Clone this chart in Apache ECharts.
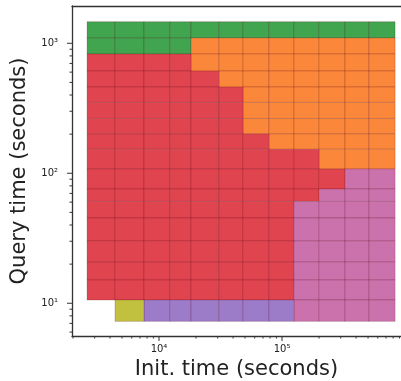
<!DOCTYPE html>
<html>
<head>
<meta charset="utf-8">
<script src="https://cdn.jsdelivr.net/npm/echarts@6/dist/echarts.min.js"></script>
<style>
  html, body { margin: 0; padding: 0; background: #fff; }
  #chart { width: 401px; height: 381px; }
</style>
</head>
<body>
<div id="chart"></div>
<script>
// cell edges (seconds)
var initEdges = [2600, 4390, 7550, 12300, 18200, 30700, 48200, 78300, 125000, 200000, 325000, 509000, 830000];
// query time edges, top to bottom
var queryEdges = [1466, 1099, 827, 612, 461, 351, 264, 201, 153, 108, 75.7, 60.7, 45.3, 30.1, 20.8, 15.1, 10.6, 7.26];

// best method per cell, one string per row (top to bottom), '-' = none
var bestRows = [
  "GGGGGGGGGGGG",
  "GGGGOOOOOOOO",
  "RRRROOOOOOOO",
  "RRRRROOOOOOO",
  "RRRRRROOOOOO",
  "RRRRRROOOOOO",
  "RRRRRROOOOOO",
  "RRRRRRROOOOO",
  "RRRRRRRRROOO",
  "RRRRRRRRRRPP",
  "RRRRRRRRRPPP",
  "RRRRRRRRPPPP",
  "RRRRRRRRPPPP",
  "RRRRRRRRPPPP",
  "RRRRRRRRPPPP",
  "RRRRRRRRPPPP",
  "-YVVVVVVPPPP"
];

var methodKeys = ["G", "O", "R", "P", "V", "Y"];
var methodNames = ["green", "orange", "red", "pink", "purple", "olive"];
var methodColors = ["#41a54f", "#fb873b", "#e0444f", "#cb72ad", "#9c7cc8", "#c1c03f"];

var xMajorTicks = [1e4, 1e5];
var xMinorTicks = [2000, 3000, 4000, 5000, 6000, 7000, 8000, 9000,
  20000, 30000, 40000, 50000, 60000, 70000, 80000, 90000,
  200000, 300000, 400000, 500000, 600000, 700000, 800000, 900000];
var yMajorTicks = [10, 100, 1000];
var yMinorTicks = [6, 7, 8, 9, 20, 30, 40, 50, 60, 70, 80, 90,
  200, 300, 400, 500, 600, 700, 800, 900];

var xRange = [1962, 927000];
var yRange = [5.6, 1936];

var FONT = "DejaVu Sans";
var AXIS_COLOR = "#333";

function supNum(n) {
  var sup = { "0": "\u2070", "1": "\u00b9", "2": "\u00b2", "3": "\u00b3", "4": "\u2074",
    "5": "\u2075", "6": "\u2076", "7": "\u2077", "8": "\u2078", "9": "\u2079", "-": "\u207b" };
  return String(n).split("").map(function (c) { return sup[c]; }).join("");
}

function powLabel(v) {
  var e = Math.log10(v);
  if (Math.abs(e - Math.round(e)) > 1e-6) return "";
  return "10" + supNum(Math.round(e));
}

// cells of one method -> [x0, x1, yLow, yHigh]
function cellsFor(key) {
  var out = [];
  bestRows.forEach(function (row, r) {
    for (var c = 0; c < row.length; c++) {
      if (row[c] === key) {
        out.push([initEdges[c], initEdges[c + 1], queryEdges[r + 1], queryEdges[r]]);
      }
    }
  });
  return out;
}

function renderCell(params, api) {
  var tl = api.coord([api.value(0), api.value(3)]);
  var br = api.coord([api.value(1), api.value(2)]);
  return {
    type: "rect",
    shape: { x: tl[0], y: tl[1], width: br[0] - tl[0], height: br[1] - tl[1] },
    style: { fill: api.visual("color"), stroke: "rgba(80,0,20,0.2)", lineWidth: 1 }
  };
}

function tickRenderer(dir, len) {
  return function (params, api) {
    var cs = params.coordSys;
    var p = api.coord([api.value(0), api.value(1)]);
    var shape = dir === "x"
      ? { x1: p[0], y1: cs.y + cs.height, x2: p[0], y2: cs.y + cs.height + len }
      : { x1: cs.x, y1: p[1], x2: cs.x - len, y2: p[1] };
    return { type: "line", shape: shape, style: { stroke: AXIS_COLOR, lineWidth: 1 } };
  };
}

var series = methodKeys.map(function (k, i) {
  return {
    type: "custom",
    name: methodNames[i],
    renderItem: renderCell,
    itemStyle: { color: methodColors[i] },
    encode: { x: [0, 1], y: [2, 3] },
    data: cellsFor(k),
    silent: true
  };
});

series.push(
  { type: "custom", renderItem: tickRenderer("x", 5), clip: false, silent: true,
    data: xMajorTicks.map(function (v) { return [v, yRange[0]]; }) },
  { type: "custom", renderItem: tickRenderer("x", 2.5), clip: false, silent: true,
    data: xMinorTicks.map(function (v) { return [v, yRange[0]]; }) },
  { type: "custom", renderItem: tickRenderer("y", 5), clip: false, silent: true,
    data: yMajorTicks.map(function (v) { return [xRange[0], v]; }) },
  { type: "custom", renderItem: tickRenderer("y", 2.5), clip: false, silent: true,
    data: yMinorTicks.map(function (v) { return [xRange[0], v]; }) }
);

var chart = echarts.init(document.getElementById("chart"));
chart.setOption({
  animation: false,
  backgroundColor: "#fff",
  textStyle: { fontFamily: FONT },
  grid: { left: 72, right: 0, top: 6, bottom: 45, outerBoundsMode: "none", containLabel: false },
  xAxis: [{
    type: "log",
    min: xRange[0],
    max: xRange[1],
    name: "Init. time (seconds)",
    nameLocation: "middle",
    nameGap: 23,
    nameTextStyle: { fontFamily: FONT, fontSize: 21, color: "#222" },
    axisLine: { lineStyle: { color: AXIS_COLOR, width: 1.3 } },
    axisTick: { show: false },
    splitLine: { show: false },
    axisLabel: { margin: 8, fontFamily: FONT, fontSize: 10, color: "#222", formatter: powLabel }
  }, {
    type: "log",
    position: "top",
    min: xRange[0],
    max: xRange[1],
    axisLine: { lineStyle: { color: AXIS_COLOR, width: 1.3 } },
    axisTick: { show: false },
    axisLabel: { show: false },
    splitLine: { show: false }
  }],
  yAxis: {
    type: "log",
    min: yRange[0],
    max: yRange[1],
    name: "Query time (seconds)",
    nameLocation: "middle",
    nameGap: 35,
    nameTextStyle: { fontFamily: FONT, fontSize: 21, color: "#222" },
    axisLine: { lineStyle: { color: AXIS_COLOR, width: 1.3 } },
    axisTick: { show: false },
    splitLine: { show: false },
    axisLabel: { margin: 14, fontFamily: FONT, fontSize: 10, color: "#222", formatter: powLabel }
  },
  series: series
});
</script>
</body>
</html>
